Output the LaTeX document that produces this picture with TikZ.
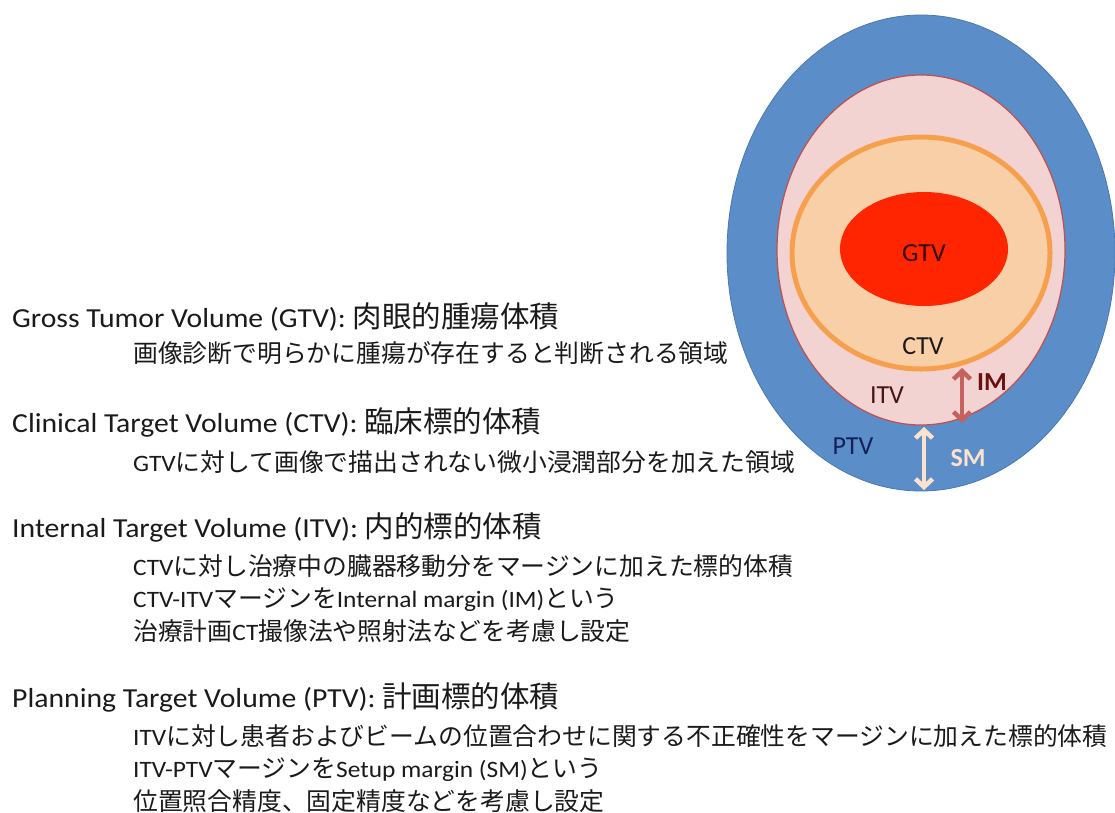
\documentclass[tikz,border=0pt]{standalone}
\usepackage{fontspec}
\setmainfont{Carlito}[FakeStretch=1.08]
\newfontfamily\jp{Noto Sans CJK JP}
\newfontfamily\lab{Carlito}
\usetikzlibrary{shapes.geometric,arrows.meta}
\definecolor{ptvblue}{HTML}{5B8DC8}
\definecolor{ptvedge}{HTML}{4A78B0}
\definecolor{itvpink}{HTML}{F3D2D2}
\definecolor{itvedge}{HTML}{C0504D}
\definecolor{ctvpeach}{HTML}{F9CFA8}
\definecolor{ctvedge}{HTML}{F6A04E}
\definecolor{gtvred}{HTML}{FF2500}
\definecolor{imcol}{HTML}{C4625E}
\definecolor{imtext}{HTML}{6A1010}
\definecolor{smcol}{HTML}{FCE2CE}
\definecolor{ptvtext}{HTML}{14205A}
\definecolor{txt}{HTML}{1A1A1A}
\newcommand\hj[1]{{\jp\fontsize{29.5}{30}\selectfont #1}}
\newcommand\sj[1]{{\jp\fontsize{24.8}{30}\selectfont #1}}
\tikzset{
  head/.style={anchor=base west, inner sep=0, text=txt, font=\fontsize{27.5}{30}\selectfont},
  sub/.style={anchor=base west, inner sep=0, text=txt, font=\fontsize{23.5}{30}\selectfont},
  vol/.style={ellipse, inner sep=0},
  vlabel/.style={inner sep=0, font=\lab\fontsize{26}{28}\selectfont},
  marrow/.style={line width=4.5pt, {Straight Barb[length=8pt,width=17pt]}-{Straight Barb[length=8pt,width=17pt]}}
}
\begin{document}
\begin{tikzpicture}[x=1pt,y=-1pt]
\useasboundingbox (0,0) rectangle (1115,812);
% volumes
\node[vol, fill=ptvblue, draw=ptvedge, line width=0.8pt, minimum width=388pt, minimum height=476pt] (ptv) at (921,253) {};
\node[vol, fill=itvpink, draw=itvedge, line width=1.2pt, minimum width=288pt, minimum height=350pt] (itv) at (921,250) {};
\node[vol, fill=ctvpeach, draw=ctvedge, line width=5pt, minimum width=258pt, minimum height=232pt] (ctv) at (921,253) {};
\node[vol, fill=gtvred, minimum width=168pt, minimum height=114pt] (gtv) at (924,249) {};
% labels
\node[vlabel, text=black!80!red] (lgtv) at (924,253) {GTV};
\node[vlabel, text=txt] (lctv) at (923,346) {CTV};
\node[vlabel, text=txt!80!red] (litv) at (887,395) {ITV};
\node[vlabel, text=imtext, font=\lab\bfseries\fontsize{26}{28}\selectfont] (lim) at (992,382) {IM};
\node[vlabel, text=ptvtext] (lptv) at (853,446) {PTV};
\node[vlabel, text=smcol, font=\lab\bfseries\fontsize{26}{28}\selectfont] (lsm) at (968,458) {SM};
% margin arrows
\coordinate (imtop) at (962,368);
\coordinate (imbot) at (962,423);
\coordinate (smtop) at (924,427);
\coordinate (smbot) at (924,490);
\draw[marrow, draw=imcol] (imtop) -- (imbot);
\draw[marrow, draw=smcol] (smtop) -- (smbot);
% text
\node[head] (h1) at (12,327) {Gross Tumor Volume (GTV): \hj{肉眼的腫瘍体積}};
\node[sub] (s1) at (133,362) {\sj{画像診断で明らかに腫瘍が存在すると判断される領域}};
\node[head] (h2) at (12,432) {Clinical Target Volume (CTV): \hj{臨床標的体積}};
\node[sub] (s2) at (133,471) {GTV\sj{に対して画像で描出されない微小浸潤部分を加えた領域}};
\node[head] (h3) at (12,537) {Internal Target Volume (ITV): \hj{内的標的体積}};
\node[sub] (s3a) at (133,575) {CTV\sj{に対し治療中の臓器移動分をマージンに加えた標的体積}};
\node[sub] (s3b) at (133,607) {CTV-ITV\sj{マージンを}Internal margin (IM)\sj{という}};
\node[sub] (s3c) at (133,640) {\sj{治療計画}CT\sj{撮像法や照射法などを考慮し設定}};
\node[head] (h4) at (12,707) {Planning Target Volume (PTV): \hj{計画標的体積}};
\node[sub] (s4a) at (133,745) {ITV\sj{に対し患者およびビームの位置合わせに関する不正確性をマージンに加えた標的体積}};
\node[sub] (s4b) at (133,777) {ITV-PTV\sj{マージンを}Setup margin (SM)\sj{という}};
\node[sub] (s4c) at (133,810) {\sj{位置照合精度、固定精度などを考慮し設定}};
\end{tikzpicture}
\end{document}
